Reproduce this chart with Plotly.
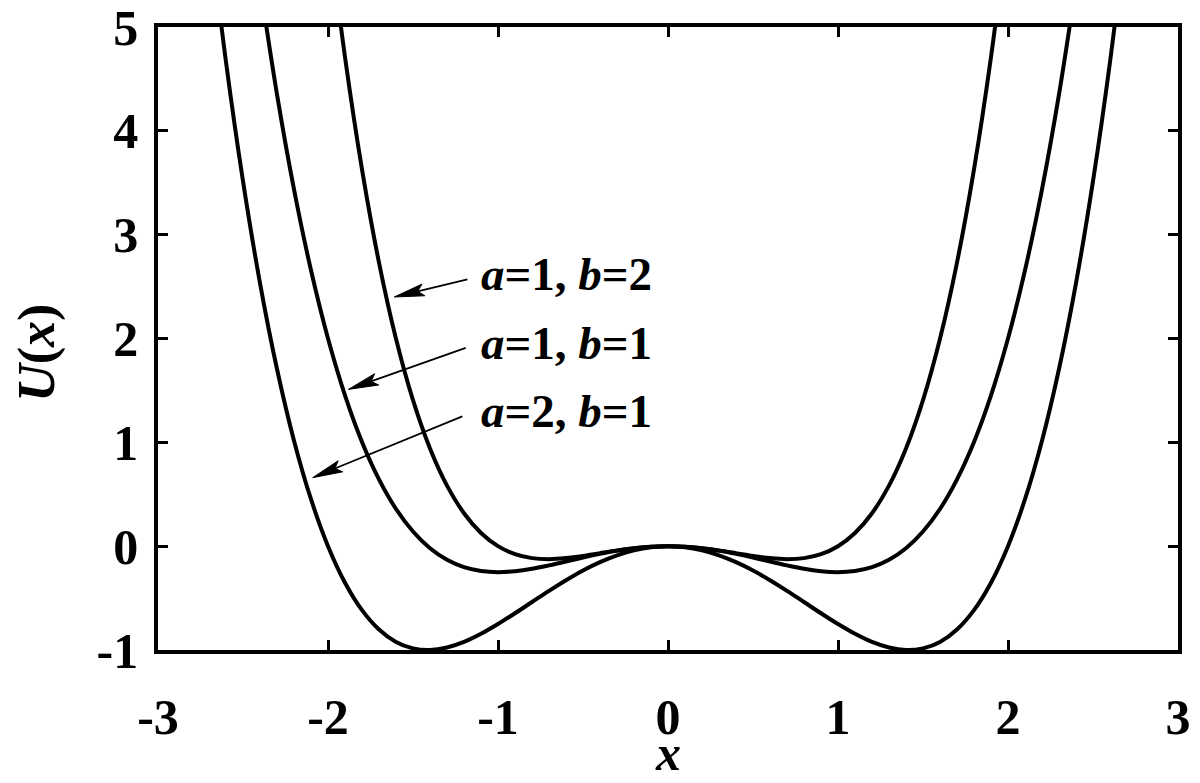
import math
import plotly.graph_objects as go

# x samples and potential values U(x)
x_a = [-2.7, -2.6, -2.5, -2.4, -2.3, -2.2, -2.1, -2.0, -1.9, -1.8, -1.7, -1.6, -1.5, -1.4,
       -1.3, -1.2, -1.1, -1.0, -0.9, -0.8, -0.7, -0.6, -0.5, -0.4, -0.3, -0.2, -0.1, 0.0,
       0.1, 0.2, 0.3, 0.4, 0.5, 0.6, 0.7, 0.8, 0.9, 1.0, 1.1, 1.2, 1.3, 1.4, 1.5, 1.6,
       1.7, 1.8, 1.9, 2.0, 2.1, 2.2, 2.3, 2.4, 2.5, 2.6, 2.7]
u_a = [5.996, 4.664, 3.516, 2.534, 1.706, 1.016, 0.452, 0.0, -0.352, -0.616, -0.802, -0.922,
       -0.984, -1.0, -0.976, -0.922, -0.844, -0.75, -0.646, -0.538, -0.43, -0.328, -0.234,
       -0.154, -0.088, -0.04, -0.01, 0.0, -0.01, -0.04, -0.088, -0.154, -0.234, -0.328, -0.43,
       -0.538, -0.646, -0.75, -0.844, -0.922, -0.976, -1.0, -0.984, -0.922, -0.802, -0.616,
       -0.352, 0.0, 0.452, 1.016, 1.706, 2.534, 3.516, 4.664, 5.996]

x_b = [-2.4, -2.3, -2.2, -2.1, -2.0, -1.9, -1.8, -1.7, -1.6, -1.5, -1.4, -1.3, -1.2, -1.1,
       -1.0, -0.9, -0.8, -0.7, -0.6, -0.5, -0.4, -0.3, -0.2, -0.1, 0.0, 0.1, 0.2, 0.3, 0.4,
       0.5, 0.6, 0.7, 0.8, 0.9, 1.0, 1.1, 1.2, 1.3, 1.4, 1.5, 1.6, 1.7, 1.8, 1.9, 2.0, 2.1,
       2.2, 2.3, 2.4]
u_b = [5.414, 4.351, 3.436, 2.657, 2.0, 1.453, 1.004, 0.643, 0.358, 0.141, -0.02, -0.131,
       -0.202, -0.239, -0.25, -0.241, -0.218, -0.185, -0.148, -0.109, -0.074, -0.043, -0.02,
       -0.005, 0.0, -0.005, -0.02, -0.043, -0.074, -0.109, -0.148, -0.185, -0.218, -0.241,
       -0.25, -0.239, -0.202, -0.131, -0.02, 0.141, 0.358, 0.643, 1.004, 1.453, 2.0, 2.657,
       3.436, 4.351, 5.414]

x_c = [-2.0, -1.9, -1.8, -1.7, -1.6, -1.5, -1.4, -1.3, -1.2, -1.1, -1.0, -0.9, -0.8, -0.7,
       -0.6, -0.5, -0.4, -0.3, -0.2, -0.1, 0.0, 0.1, 0.2, 0.3, 0.4, 0.5, 0.6, 0.7, 0.8, 0.9,
       1.0, 1.1, 1.2, 1.3, 1.4, 1.5, 1.6, 1.7, 1.8, 1.9, 2.0]
u_c = [6.0, 4.711, 3.629, 2.731, 1.997, 1.406, 0.941, 0.583, 0.317, 0.127, 0.0, -0.077,
       -0.115, -0.125, -0.115, -0.094, -0.067, -0.041, -0.019, -0.005, 0.0, -0.005, -0.019,
       -0.041, -0.067, -0.094, -0.115, -0.125, -0.115, -0.077, 0.0, 0.127, 0.317, 0.583,
       0.941, 1.406, 1.997, 2.731, 3.629, 4.711, 6.0]

labels = ["<i>a</i>=1, <i>b</i>=2", "<i>a</i>=1, <i>b</i>=1", "<i>a</i>=2, <i>b</i>=1"]
label_x = [-1.11, -1.11, -1.11]
label_y = [2.62, 1.96, 1.30]
arrow_tail_x = [-1.18, -1.19, -1.21]
arrow_tail_y = [2.57, 1.91, 1.25]
arrow_head_x = [-1.61, -1.88, -2.09]
arrow_head_y = [2.40, 1.51, 0.66]

x_ticks = [-3, -2, -1, 0, 1, 2, 3]
y_ticks = [-1, 0, 1, 2, 3, 4, 5]

X_RANGE = [-3, 3]
Y_RANGE = [-1, 5]

# page layout (body has an 8px default margin)
FIG_W, FIG_H = 1192, 767
M_L, M_R, M_T, M_B = 150, 22, 19, 125
PLOT_W = FIG_W - M_L - M_R
PLOT_H = FIG_H - M_T - M_B
PX_X = PLOT_W / (X_RANGE[1] - X_RANGE[0])
PX_Y = PLOT_H / (Y_RANGE[1] - Y_RANGE[0])

FONT = "Liberation Serif, Times New Roman, serif"

fig = go.Figure()
for xs, us in [(x_a, u_a), (x_b, u_b), (x_c, u_c)]:
    fig.add_trace(go.Scatter(x=xs, y=us, mode="lines",
                             line=dict(color="black", width=4, shape="spline"),
                             showlegend=False, hoverinfo="skip"))

for t, lx, ly in zip(labels, label_x, label_y):
    fig.add_annotation(x=lx, y=ly, xref="x", yref="y", text="<b>" + t + "</b>",
                       showarrow=False, xanchor="left", yanchor="middle",
                       font=dict(family=FONT, size=47, color="black"))

# arrows: thin shaft plus a long narrow filled head
HEAD_LEN, HEAD_HALF = 30, 6
for tx, ty, hx, hy in zip(arrow_tail_x, arrow_tail_y, arrow_head_x, arrow_head_y):
    dxp = (tx - hx) * PX_X
    dyp = (ty - hy) * PX_Y
    n = math.hypot(dxp, dyp)
    ux, uy = dxp / n, dyp / n
    bx, by = ux * HEAD_LEN, uy * HEAD_LEN
    px_, py_ = -uy * HEAD_HALF, ux * HEAD_HALF
    b1 = (hx + (bx + px_) / PX_X, hy + (by + py_) / PX_Y)
    b2 = (hx + (bx - px_) / PX_X, hy + (by - py_) / PX_Y)
    bc = (hx + bx * 0.8 / PX_X, hy + by * 0.8 / PX_Y)
    fig.add_shape(type="line", x0=tx, y0=ty, x1=bc[0], y1=bc[1], xref="x", yref="y",
                  line=dict(color="black", width=1.8))
    fig.add_shape(type="path", xref="x", yref="y",
                  path=f"M{hx},{hy} L{b1[0]},{b1[1]} L{bc[0]},{bc[1]} L{b2[0]},{b2[1]} Z",
                  fillcolor="black", line=dict(color="black", width=1))

fig.add_annotation(x=-0.1186, y=0.477, xref="paper", yref="paper",
                   text="<b><i>U</i>(<i>x</i>)</b>",
                   textangle=-90, showarrow=False, xanchor="center", yanchor="middle",
                   font=dict(family=FONT, size=52, color="black"))
fig.add_annotation(x=0.5, y=-0.165, xref="paper", yref="paper", text="<b><i>x</i></b>",
                   showarrow=False, xanchor="center", yanchor="middle",
                   font=dict(family=FONT, size=50, color="black"))

axis_common = dict(showline=True, linecolor="black", linewidth=3.5, mirror="ticks",
                   ticks="inside", ticklen=10, tickwidth=2.5, tickcolor="black",
                   showgrid=False, zeroline=False, ticklabeloverflow="allow",
                   tickfont=dict(family=FONT, size=50, color="black", weight="bold"))

fig.update_xaxes(range=X_RANGE, tickvals=x_ticks, ticktext=[str(v) for v in x_ticks],
                 ticklabelstandoff=20, **axis_common)
fig.update_yaxes(range=Y_RANGE, tickvals=y_ticks, ticktext=[str(v) for v in y_ticks],
                 ticklabelstandoff=6, **axis_common)

fig.update_layout(width=FIG_W, height=FIG_H,
                  margin=dict(l=M_L, r=M_R, t=M_T, b=M_B, autoexpand=False),
                  paper_bgcolor="white", plot_bgcolor="white",
                  font=dict(family=FONT, color="black"))

fig.write_html("out.html")
